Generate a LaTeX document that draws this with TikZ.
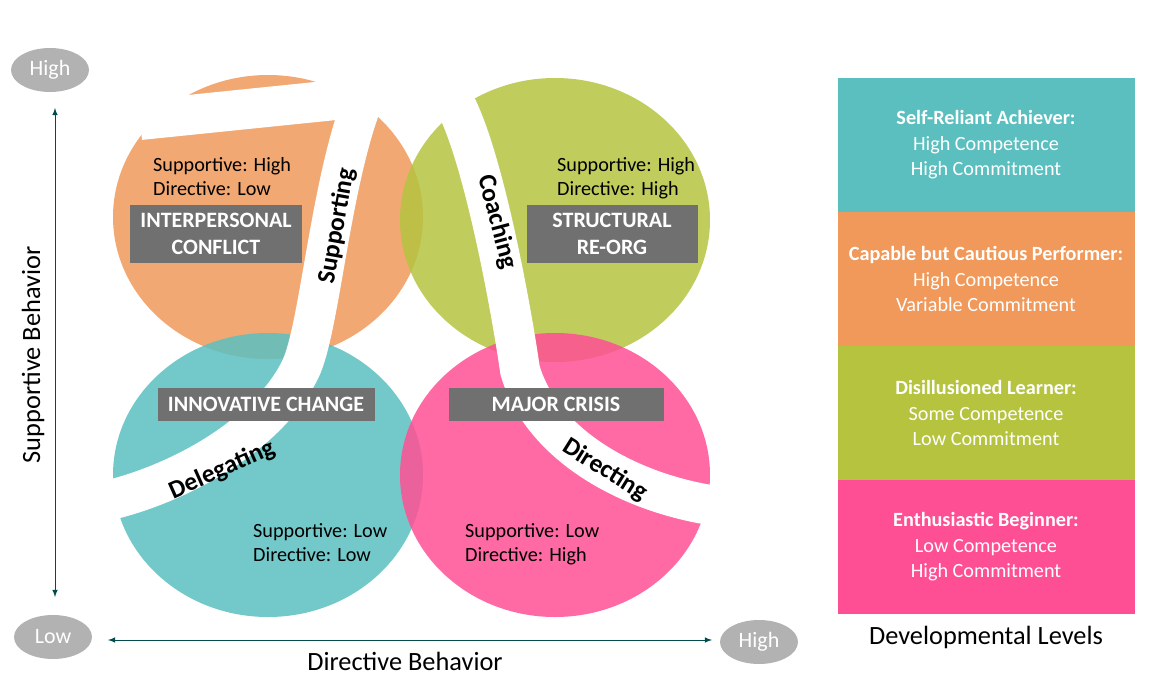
\documentclass[tikz,border=0pt]{standalone}
\usepackage{fontspec}
\setmainfont{Carlito}
\usetikzlibrary{shapes.geometric}
\begin{document}
\begin{tikzpicture}[x=0.02cm,y=-0.02cm,
 circ/.style={ellipse,minimum width=310*0.02cm,minimum height=284*0.02cm,inner sep=0,fill opacity=0.85,text opacity=1},
 gbox/.style={fill=gray!75!black!90,text=white,font=\bfseries\fontsize{12.5}{15}\selectfont,align=center,inner sep=0},
 info/.style={font=\fontsize{11.5}{14}\selectfont,align=left},
 band/.style={white,line width=40*0.02cm},
 blab/.style={font=\bfseries\fontsize{14.5}{17}\selectfont},
 lvl/.style={text=white,font=\fontsize{11.5}{14.5}\selectfont,align=center,minimum width=297*0.02cm,minimum height=134*0.02cm,inner sep=0},
 oval/.style={ellipse,fill=gray!60,text=white,minimum width=78*0.02cm,minimum height=44*0.02cm,font=\fontsize{12.5}{15}\selectfont},
 ax/.style={draw=teal!60!black,<->,>=latex}]
\useasboundingbox (0,0) rectangle (1154,683);
\definecolor{cteal}{HTML}{5BBFBF}\definecolor{corange}{HTML}{F0995A}
\definecolor{cgreen}{HTML}{B5C33F}\definecolor{cpink}{HTML}{FF4F94}
\node[circ,fill=corange] (c1) at (268,217) {};
\node[circ,fill=cgreen] (c2) at (555,220) {};
\node[circ,fill=cteal] (c3) at (268,475) {};
\node[circ,fill=cpink] (c4) at (555,475) {};
\draw[band] (140,120) -- (355,98);
\draw[band] (365,95) .. controls (330,180) and (320,330) .. (300,370) .. controls (270,430) and (190,480) .. (110,500);
\draw[band] (450,95) .. controls (480,140) and (510,300) .. (520,370) .. controls (540,440) and (620,490) .. (710,505);
\node[blab,rotate=80] (s) at (337,226) {Supporting};
\node[blab,rotate=-75] (co) at (497,222) {Coaching};
\node[blab,rotate=24] (de) at (222,470) {Delegating};
\node[blab,rotate=-32] (di) at (605,470) {Directing};
\node[info,anchor=north west] (i1) at (147,151) {Supportive: High\\Directive: Low};
\node[info,anchor=north west] (i2) at (551,151) {Supportive: High\\Directive: High};
\node[info,anchor=north west] (i3) at (247,517) {Supportive: Low\\Directive: Low};
\node[info,anchor=north west] (i4) at (459,517) {Supportive: Low\\Directive: High};
\node[gbox,minimum width=172*0.02cm,minimum height=58*0.02cm] (g1) at (216,234) {INTERPERSONAL\\CONFLICT};
\node[gbox,minimum width=171*0.02cm,minimum height=58*0.02cm] (g2) at (612,234) {STRUCTURAL\\RE-ORG};
\node[gbox,minimum width=217*0.02cm,minimum height=33*0.02cm] (g3) at (266,404) {INNOVATIVE CHANGE};
\node[gbox,minimum width=215*0.02cm,minimum height=33*0.02cm] (g4) at (556,404) {MAJOR CRISIS};
\node[lvl,fill=cteal] (l1) at (986,145) {\textbf{Self-Reliant Achiever:}\\High Competence\\High Commitment};
\node[lvl,fill=corange] (l2) at (986,279) {\textbf{Capable but Cautious Performer:}\\High Competence\\Variable Commitment};
\node[lvl,fill=cgreen] (l3) at (986,413) {\textbf{Disillusioned Learner:}\\Some Competence\\Low Commitment};
\node[lvl,fill=cpink] (l4) at (986,547) {\textbf{Enthusiastic Beginner:}\\Low Competence\\High Commitment};
\node[font=\fontsize{15}{18}\selectfont] (dl) at (986,637) {Developmental Levels};
\node[oval] (oh) at (50,70) {High};
\node[oval] (ol) at (53,637) {Low};
\node[oval] (or) at (759,642) {High};
\coordinate (v1) at (55,108); \coordinate (v2) at (55,597);
\coordinate (h1) at (108,640); \coordinate (h2) at (712,640);
\draw[ax] (v1) -- (v2);
\draw[ax] (h1) -- (h2);
\node[rotate=90,font=\fontsize{15}{18}\selectfont] (sb) at (33,355) {Supportive Behavior};
\node[font=\fontsize{15}{18}\selectfont] (db) at (405,661) {Directive Behavior};
\end{tikzpicture}
\end{document}
